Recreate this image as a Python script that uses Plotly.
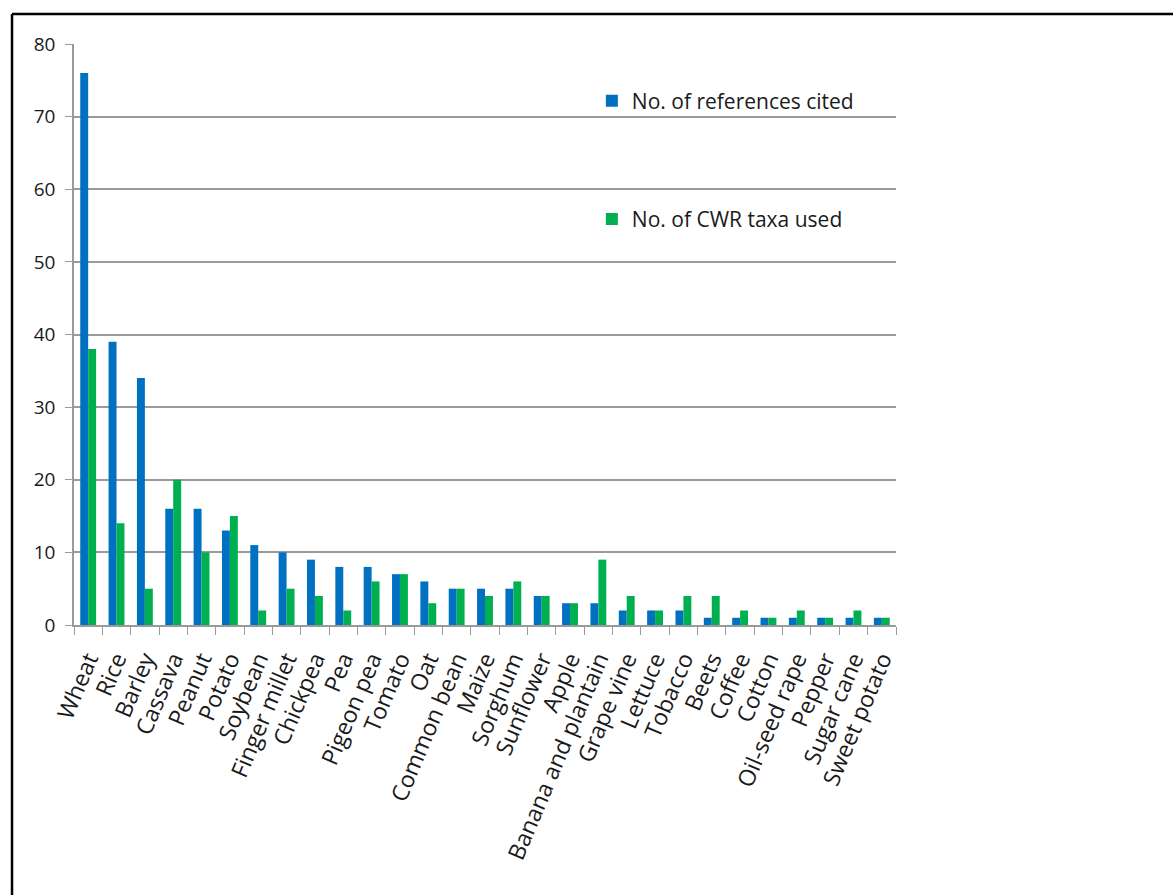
import plotly.graph_objects as go

crops = ["Wheat", "Rice", "Barley", "Cassava", "Peanut", "Potato", "Soybean",
         "Finger millet", "Chickpea", "Pea", "Pigeon pea", "Tomato", "Oat",
         "Common bean", "Maize", "Sorghum", "Sunflower", "Apple",
         "Banana and plantain", "Grape vine", "Lettuce", "Tobacco", "Beets",
         "Coffee", "Cotton", "Oil-seed rape", "Pepper", "Sugar cane", "Sweet potato"]
references_cited = [76, 39, 34, 16, 16, 13, 11, 10, 9, 8, 8, 7, 6, 5, 5, 5, 4, 3,
                    3, 2, 2, 2, 1, 1, 1, 1, 1, 1, 1]
cwr_taxa_used = [38, 14, 5, 20, 10, 15, 2, 5, 4, 2, 6, 7, 3, 5, 4, 6, 4, 3,
                 9, 4, 2, 4, 4, 2, 1, 2, 1, 2, 1]
y_ticks = [0, 10, 20, 30, 40, 50, 60, 70, 80]

fig = go.Figure()
fig.add_trace(go.Bar(x=crops, y=references_cited, name="No. of references cited",
                     marker=dict(color="#0070C0", line=dict(width=0)),
                     legendgroup="a"))
fig.add_trace(go.Bar(x=crops, y=cwr_taxa_used, name="No. of CWR taxa used",
                     marker=dict(color="#00B050", line=dict(width=0)),
                     legendgroup="b"))

font_family = "Open Sans, sans-serif"
fig.update_layout(
    width=1173, height=895,
    margin=dict(l=74, r=277, t=44, b=270),
    paper_bgcolor="white", plot_bgcolor="white",
    barmode="group", bargap=0.44, bargroupgap=0,
    font=dict(family=font_family, color="#1a1a1a", size=19),
    showlegend=True,
    legend=dict(x=0.63, y=0.937, xanchor="left", yanchor="top",
                traceorder="grouped", tracegroupgap=88,
                font=dict(family=font_family, size=21, color="#1a1a1a"),
                bgcolor="rgba(0,0,0,0)", itemwidth=30),
    xaxis=dict(type="category", tickangle=-67, showgrid=False,
               showline=True, linecolor="#9a9a9a", linewidth=1.5,
               ticks="outside", tickson="boundaries", ticklen=8,
               tickcolor="#9a9a9a", tickwidth=1.2, ticklabelstandoff=10,
               tickfont=dict(family=font_family, size=23, color="#1a1a1a")),
    yaxis=dict(range=[0, 80], tickvals=y_ticks, showgrid=True,
               gridcolor="#9a9a9a", gridwidth=1.5,
               showline=True, linecolor="#9a9a9a", linewidth=1.5,
               ticks="outside", ticklen=7, tickcolor="#9a9a9a", tickwidth=1.2,
               zeroline=False, ticklabelstandoff=6,
               tickfont=dict(family=font_family, size=19, color="#1a1a1a")),
    shapes=[
        dict(type="line", xref="paper", yref="paper", x0=-0.0754, x1=1.40,
             y0=1.0516, y1=1.0516, line=dict(color="black", width=2.5)),
        dict(type="line", xref="paper", yref="paper", x0=-0.0754, x1=-0.0754,
             y0=-0.50, y1=1.0516, line=dict(color="black", width=2.5)),
    ],
)

fig.write_html("out.html")
